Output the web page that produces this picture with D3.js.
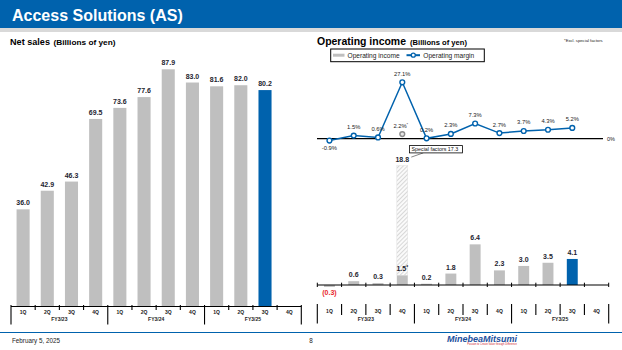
<!DOCTYPE html>
<html>
<head>
<meta charset="utf-8">
<script src="https://cdn.jsdelivr.net/npm/d3@7"></script>
<style>
  body { margin: 0; background: #fff; }
  text { font-family: Arial, "Liberation Sans", sans-serif; }
</style>
</head>
<body>
<div id="chart"></div>
<script>
// data
const quarters = ['1Q', '2Q', '3Q', '4Q'];
const fiscalYears = ['FY3/23', 'FY3/24', 'FY3/25'];
const periods = fiscalYears.flatMap(fy => quarters.map(q => `${fy} ${q}`));

const netSales = [36.0, 42.9, 46.3, 69.5, 73.6, 77.6, 87.9, 83.0, 81.6, 82.0, 80.2, null];
const opIncome = [-0.3, 0.6, 0.3, 1.5, 0.2, 1.8, 6.4, 2.3, 3.0, 3.5, 4.1, null];
const opIncomeInclSpecial = [null, null, null, 18.8, null, null, null, null, null, null, null, null];
const opMargin = [-0.9, 1.5, 0.6, 27.1, 0.2, 2.3, 7.3, 2.7, 3.7, 4.3, 5.2, null];
const opMarginExclSpecial = [null, null, null, 2.2, null, null, null, null, null, null, null, null];
const specialFactorsLabel = 'Special factors 17.3';
const currentIndex = 10;

const BLUE = '#0062ad';
const GRAY = '#bfbfbf';

const svg = d3.select('#chart').append('svg')
    .attr('width', 622)
    .attr('height', 350);

const defs = svg.append('defs');
const hatch = defs.append('pattern')
    .attr('id', 'hatch')
    .attr('patternUnits', 'userSpaceOnUse')
    .attr('width', 3)
    .attr('height', 3)
    .attr('patternTransform', 'rotate(45)');
hatch.append('rect').attr('width', 3).attr('height', 3).attr('fill', '#fafafa');
hatch.append('line')
    .attr('x1', 0).attr('y1', 0).attr('x2', 0).attr('y2', 3)
    .attr('stroke', '#cfcfcf').attr('stroke-width', 1.6);

// header
svg.append('rect').attr('width', 622).attr('height', 28).attr('fill', BLUE);
svg.append('rect').attr('y', 28).attr('width', 622).attr('height', 4).attr('fill', '#d9d9d9');
svg.append('text')
    .attr('x', 12).attr('y', 20.5)
    .attr('fill', '#fff')
    .attr('font-size', 16)
    .attr('font-weight', 'bold')
    .text('Access Solutions (AS)');

// ---------- Net sales ----------
const left = svg.append('g');
left.append('text')
    .attr('x', 10).attr('y', 44.5)
    .attr('font-size', 9.6).attr('font-weight', 'bold')
    .attr('textLength', 40).attr('lengthAdjust', 'spacingAndGlyphs')
    .text('Net sales');
left.append('text')
    .attr('x', 53.5).attr('y', 44.5)
    .attr('font-size', 7.6).attr('font-weight', 'bold')
    .attr('textLength', 62).attr('lengthAdjust', 'spacingAndGlyphs')
    .text('(Billions of yen)');

const xL = d3.scaleBand().domain(periods).range([11, 301.3]);
const yL = d3.scaleLinear().domain([0, 87.9]).range([306.5, 69.3]);
const barWL = xL.step() * 0.54;

const salesData = periods.map((p, i) => ({ p, i, v: netSales[i] })).filter(d => d.v !== null);

left.selectAll('rect.sales')
    .data(salesData)
    .join('rect')
    .attr('class', 'sales')
    .attr('x', d => xL(d.p) + (xL.step() - barWL) / 2)
    .attr('width', barWL)
    .attr('y', d => yL(d.v))
    .attr('height', d => yL(0) - yL(d.v))
    .attr('fill', d => d.i === currentIndex ? BLUE : GRAY);

left.selectAll('text.sales-label')
    .data(salesData)
    .join('text')
    .attr('class', 'sales-label')
    .attr('x', d => xL(d.p) + xL.step() / 2)
    .attr('y', d => yL(d.v) - 4)
    .attr('text-anchor', 'middle')
    .attr('font-size', 7)
    .attr('font-weight', 'bold')
    .attr('fill', '#1e1e30')
    .text(d => d.v.toFixed(1));

// category table under the bars
function drawCategoryAxis(g, x, cfg) {
  g.append('line')
      .attr('x1', x.range()[0]).attr('x2', x.range()[1])
      .attr('y1', cfg.lineY).attr('y2', cfg.lineY)
      .attr('stroke', '#000').attr('stroke-width', 1.2);

  const bounds = d3.range(periods.length + 1).map(i => x.range()[0] + i * x.step());
  g.selectAll(null)
      .data(bounds)
      .join('line')
      .attr('x1', d => d).attr('x2', d => d)
      .attr('y1', cfg.tickTop)
      .attr('y2', (d, i) => i % 4 === 0 ? cfg.longBottom : cfg.shortBottom)
      .attr('stroke', '#000').attr('stroke-width', 1.1);

  const axis = d3.axisBottom(x)
      .tickSize(0)
      .tickFormat(d => d.split(' ')[1]);
  const ag = g.append('g')
      .attr('transform', `translate(0,${cfg.qY})`)
      .call(axis);
  ag.select('.domain').remove();
  ag.selectAll('text')
      .attr('dy', 0).attr('y', 0)
      .attr('font-size', 5)
      .attr('font-weight', 'bold')
      .attr('fill', '#222')
      .style('font-family', 'Arial, "Liberation Sans", sans-serif');

  g.selectAll(null)
      .data(fiscalYears)
      .join('text')
      .attr('x', (d, i) => x.range()[0] + (i * 4 + 2) * x.step())
      .attr('y', cfg.fyY)
      .attr('text-anchor', 'middle')
      .attr('font-size', 5)
      .attr('font-weight', 'bold')
      .attr('fill', '#222')
      .text(d => d);
}

drawCategoryAxis(left.append('g'), xL, {
  lineY: 306.5, tickTop: 305, shortBottom: 310, longBottom: 324.5, qY: 314.3, fyY: 320.6,
});

// ---------- Operating income ----------
const right = svg.append('g');
right.append('text')
    .attr('x', 317).attr('y', 44.5)
    .attr('font-size', 10).attr('font-weight', 'bold')
    .attr('textLength', 89).attr('lengthAdjust', 'spacingAndGlyphs')
    .text('Operating income');
right.append('text')
    .attr('x', 410).attr('y', 44.5)
    .attr('font-size', 7.6).attr('font-weight', 'bold')
    .attr('textLength', 57).attr('lengthAdjust', 'spacingAndGlyphs')
    .text('(Billions of yen)');

right.append('text')
    .attr('x', 564).attr('y', 42)
    .attr('font-size', 4.2)
    .attr('fill', '#222')
    .text('*Excl. special factors');

// legend
const legend = right.append('g');
legend.append('rect')
    .attr('x', 330.7).attr('y', 49).attr('width', 153.6).attr('height', 12.7)
    .attr('fill', '#fff').attr('stroke', '#000').attr('stroke-width', 1);
legend.append('rect')
    .attr('x', 333).attr('y', 53.7).attr('width', 11.5).attr('height', 3)
    .attr('fill', GRAY);
legend.append('text')
    .attr('x', 347.5).attr('y', 57.6)
    .attr('font-size', 6.6).attr('fill', '#222')
    .text('Operating income');
legend.append('line')
    .attr('x1', 406.5).attr('x2', 420).attr('y1', 55.2).attr('y2', 55.2)
    .attr('stroke', BLUE).attr('stroke-width', 2);
legend.append('circle')
    .attr('cx', 413.3).attr('cy', 55.2).attr('r', 2)
    .attr('fill', '#fff').attr('stroke', BLUE).attr('stroke-width', 1.3);
legend.append('text')
    .attr('x', 423.3).attr('y', 57.6)
    .attr('font-size', 6.6).attr('fill', '#222')
    .text('Operating margin');

const xR = d3.scaleBand().domain(periods).range([317.3, 608.7]);
const yR = d3.scaleLinear().domain([0, 18.8]).range([285, 165.6]);
const yM = d3.scaleLinear().domain([0, 27.1]).range([138.7, 82.3]);
const barWR = xR.step() * 0.45;
const cx = p => xR(p) + xR.step() / 2;

// margin line
right.append('line')
    .attr('x1', 317).attr('x2', 603)
    .attr('y1', yM(0)).attr('y2', yM(0))
    .attr('stroke', '#000').attr('stroke-width', 1.2);
right.append('text')
    .attr('x', 607).attr('y', yM(0) + 2)
    .attr('font-size', 5.5).attr('fill', '#222')
    .text('0%');

const marginData = periods.map((p, i) => ({ p, i, v: opMargin[i] })).filter(d => d.v !== null);

right.append('path')
    .datum(marginData)
    .attr('fill', 'none')
    .attr('stroke', BLUE)
    .attr('stroke-width', 1.5)
    .attr('d', d3.line().x(d => cx(d.p)).y(d => yM(d.v)));

right.selectAll('circle.margin')
    .data(marginData)
    .join('circle')
    .attr('class', 'margin')
    .attr('cx', d => cx(d.p))
    .attr('cy', d => yM(d.v))
    .attr('r', 2.4)
    .attr('fill', '#fff')
    .attr('stroke', BLUE)
    .attr('stroke-width', 1.4);

right.selectAll('text.margin-label')
    .data(marginData)
    .join('text')
    .attr('class', 'margin-label')
    .attr('x', d => cx(d.p))
    .attr('y', d => d.v < 0 ? yM(d.v) + 9.5 : yM(d.v) - 6.5)
    .attr('text-anchor', 'middle')
    .attr('font-size', 5.8)
    .attr('fill', '#222')
    .text(d => `${d.v.toFixed(1)}%`);

// margin excluding special factors
const exclData = periods.map((p, i) => ({ p, i, v: opMarginExclSpecial[i] })).filter(d => d.v !== null);
right.selectAll('circle.excl')
    .data(exclData)
    .join('circle')
    .attr('class', 'excl')
    .attr('cx', d => cx(d.p))
    .attr('cy', d => yM(d.v))
    .attr('r', 2.4)
    .attr('fill', '#e6e6e6')
    .attr('stroke', '#8c8c8c')
    .attr('stroke-width', 1.4);
const exclLabel = right.selectAll('text.excl-label')
    .data(exclData)
    .join('text')
    .attr('class', 'excl-label')
    .attr('x', d => cx(d.p) - 1.5)
    .attr('y', d => yM(d.v) - 6)
    .attr('text-anchor', 'middle')
    .attr('font-size', 5.8)
    .attr('fill', '#222');
exclLabel.append('tspan').text(d => `${d.v.toFixed(1)}%`);
exclLabel.append('tspan').attr('font-size', 4).attr('dy', -2).text('*');

// income bars
const incomeData = periods.map((p, i) => ({ p, i, v: opIncome[i] })).filter(d => d.v !== null);
const specialData = periods.map((p, i) => ({ p, i, v: opIncomeInclSpecial[i], base: opIncome[i] }))
    .filter(d => d.v !== null);

right.selectAll('rect.special')
    .data(specialData)
    .join('rect')
    .attr('class', 'special')
    .attr('x', d => xR(d.p) + (xR.step() - barWR) / 2)
    .attr('width', barWR)
    .attr('y', d => yR(d.v))
    .attr('height', d => yR(d.base) - yR(d.v))
    .attr('fill', 'url(#hatch)')
    .attr('stroke', '#e0e0e0')
    .attr('stroke-width', 0.5);

right.selectAll('rect.income')
    .data(incomeData)
    .join('rect')
    .attr('class', 'income')
    .attr('x', d => xR(d.p) + (xR.step() - barWR) / 2)
    .attr('width', barWR)
    .attr('y', d => yR(Math.max(0, d.v)))
    .attr('height', d => Math.abs(yR(0) - yR(d.v)))
    .attr('fill', d => d.i === currentIndex ? BLUE : GRAY);

const incomeLabels = right.selectAll('text.income-label')
    .data(incomeData)
    .join('text')
    .attr('class', 'income-label')
    .attr('x', d => cx(d.p))
    .attr('y', d => d.v < 0 ? yR(d.v) + 8 : yR(d.v) - 4)
    .attr('text-anchor', 'middle')
    .attr('font-size', 7)
    .attr('font-weight', 'bold')
    .attr('fill', d => d.v < 0 ? '#e8282b' : '#1e1e30');
incomeLabels.append('tspan')
    .text(d => d.v < 0 ? `(${Math.abs(d.v).toFixed(1)})` : d.v.toFixed(1));
incomeLabels.filter(d => opIncomeInclSpecial[d.i] !== null)
    .append('tspan')
    .attr('font-size', 5)
    .attr('dy', -2.5)
    .text('*');

right.selectAll('text.special-label')
    .data(specialData)
    .join('text')
    .attr('class', 'special-label')
    .attr('x', d => cx(d.p))
    .attr('y', d => yR(d.v) - 3.5)
    .attr('text-anchor', 'middle')
    .attr('font-size', 7)
    .attr('font-weight', 'bold')
    .attr('fill', '#1e1e30')
    .text(d => d.v.toFixed(1));

// special factors callout
specialData.forEach(d => {
  const bx = cx(d.p) + 7.3;
  const by = yR(d.v) - 20;
  right.append('line')
      .attr('x1', cx(d.p) + 9).attr('y1', yR(d.v) - 8.5)
      .attr('x2', cx(d.p) + 21).attr('y2', by + 7.3)
      .attr('stroke', '#333').attr('stroke-width', 0.6);
  right.append('rect')
      .attr('x', bx).attr('y', by)
      .attr('width', 53).attr('height', 7.3)
      .attr('fill', '#fff').attr('stroke', '#000').attr('stroke-width', 0.8);
  right.append('text')
      .attr('x', bx + 2).attr('y', by + 5.4)
      .attr('font-size', 5.3).attr('fill', '#111')
      .text(specialFactorsLabel);
});

// income axis line with small ticks
right.append('line')
    .attr('x1', 317.3).attr('x2', 608.7)
    .attr('y1', yR(0)).attr('y2', yR(0))
    .attr('stroke', '#000').attr('stroke-width', 1.1);
right.selectAll(null)
    .data(d3.range(periods.length + 1))
    .join('line')
    .attr('x1', i => 317.3 + i * xR.step()).attr('x2', i => 317.3 + i * xR.step())
    .attr('y1', yR(0) - 2.3).attr('y2', yR(0) + 2)
    .attr('stroke', '#000').attr('stroke-width', 1);

// category table without the horizontal rule
const rightAxis = right.append('g');
drawCategoryAxis(rightAxis, xR, {
  lineY: 0, tickTop: 304, shortBottom: 315, longBottom: 323.5, qY: 313, fyY: 321,
});
rightAxis.select('line').remove();

// footer
svg.append('line')
    .attr('x1', 0).attr('x2', 622).attr('y1', 332.5).attr('y2', 332.5)
    .attr('stroke', BLUE).attr('stroke-width', 1.2);
svg.append('text')
    .attr('x', 12).attr('y', 343)
    .attr('font-size', 6.3).attr('fill', '#222')
    .text('February 5, 2025');
svg.append('text')
    .attr('x', 311).attr('y', 343)
    .attr('text-anchor', 'middle')
    .attr('font-size', 6.3).attr('fill', '#222')
    .text('8');
svg.append('text')
    .attr('x', 517).attr('y', 341.5)
    .attr('text-anchor', 'end')
    .attr('font-size', 9)
    .attr('font-weight', 'bold')
    .attr('font-style', 'italic')
    .attr('fill', '#1b4f9c')
    .text('MinebeaMitsumi');
svg.append('text')
    .attr('x', 517).attr('y', 345.3)
    .attr('text-anchor', 'end')
    .attr('font-size', 2.6)
    .attr('fill', '#d0262d')
    .text('Passion to Create Value through Difference');
</script>
</body>
</html>
